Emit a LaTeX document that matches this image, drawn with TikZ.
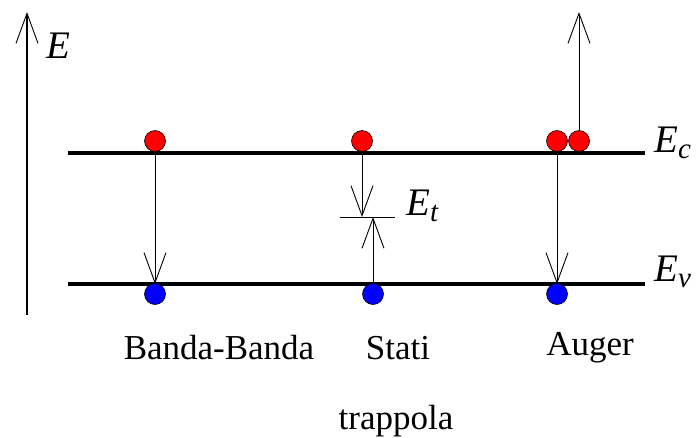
\documentclass[tikz,border=0pt]{standalone}
\usepackage{fontspec}
\setmainfont{Liberation Serif}
\usetikzlibrary{arrows.meta}
\tikzset{
  level/.style={line width=3.2pt, black},
  elec/.style={circle, draw=black, line width=0.6pt, fill=red, minimum size=21pt, inner sep=0pt},
  hole/.style={circle, draw=black, line width=0.6pt, fill=blue, minimum size=21pt, inner sep=0pt},
  trans/.style={line width=0.9pt, -{Straight Barb[length=30pt, width=22pt, line width=0.9pt]}},
  lab/.style={font=\fontsize{35}{40}\selectfont, inner sep=0pt},
  sym/.style={font=\fontsize{39}{44}\selectfont\itshape, inner sep=0pt, anchor=west}
}
\newcommand{\subsc}[1]{\raisebox{-0.3ex}{\fontsize{29}{32}\selectfont #1}}
\begin{document}
\begin{tikzpicture}[x=1pt, y=-1pt]
\useasboundingbox (0,0) rectangle (700,437);
% energy axis
\coordinate (ax0) at (27,315);
\coordinate (ax1) at (27,12);
\draw[trans, line width=1.2pt] (ax0) -- (ax1);
\node[sym] (E) at (46,46) {E};
% levels
\coordinate (c0) at (68,153);
\coordinate (c1) at (645,153);
\coordinate (v0) at (68,284);
\coordinate (v1) at (645,284);
\draw[level] (c0) -- (c1);
\draw[level] (v0) -- (v1);
\node[sym] (Ec) at (654,143) {E\subsc{c}};
\node[sym] (Ev) at (654,272) {E\subsc{v}};
% Banda-Banda
\node[elec] (e1) at (155,141) {};
\node[hole] (h1) at (155,294) {};
\coordinate (a1) at (155,284);
\draw[trans] (e1) -- (a1);
% Stati trappola
\node[elec] (e2) at (362,141) {};
\node[hole] (h2) at (373,294) {};
\coordinate (t2) at (362,217);
\coordinate (t3) at (373,217);
\coordinate (tl) at (340,217);
\coordinate (tr) at (395,217);
\draw[line width=0.9pt] (tl) -- (tr);
\draw[trans] (e2) -- (t2);
\draw[trans] (h2) -- (t3);
\node[sym] (Et) at (406,206) {E\subsc{t}};
% Auger
\node[elec] (e3) at (557,141) {};
\node[elec] (e4) at (579,141) {};
\node[hole] (h3) at (557,294) {};
\coordinate (a3) at (557,284);
\coordinate (up) at (579,12);
\draw[trans] (e3) -- (a3);
\draw[trans] (e4) -- (up);
% labels
\node[lab] (l1) at (219,348) {Banda-Banda};
\node[lab] (l2) at (398,348) {Stati};
\node[lab] (l3) at (590,348) {Auger};
\node[lab] (l4) at (396,421) {trappola};
\end{tikzpicture}
\end{document}
